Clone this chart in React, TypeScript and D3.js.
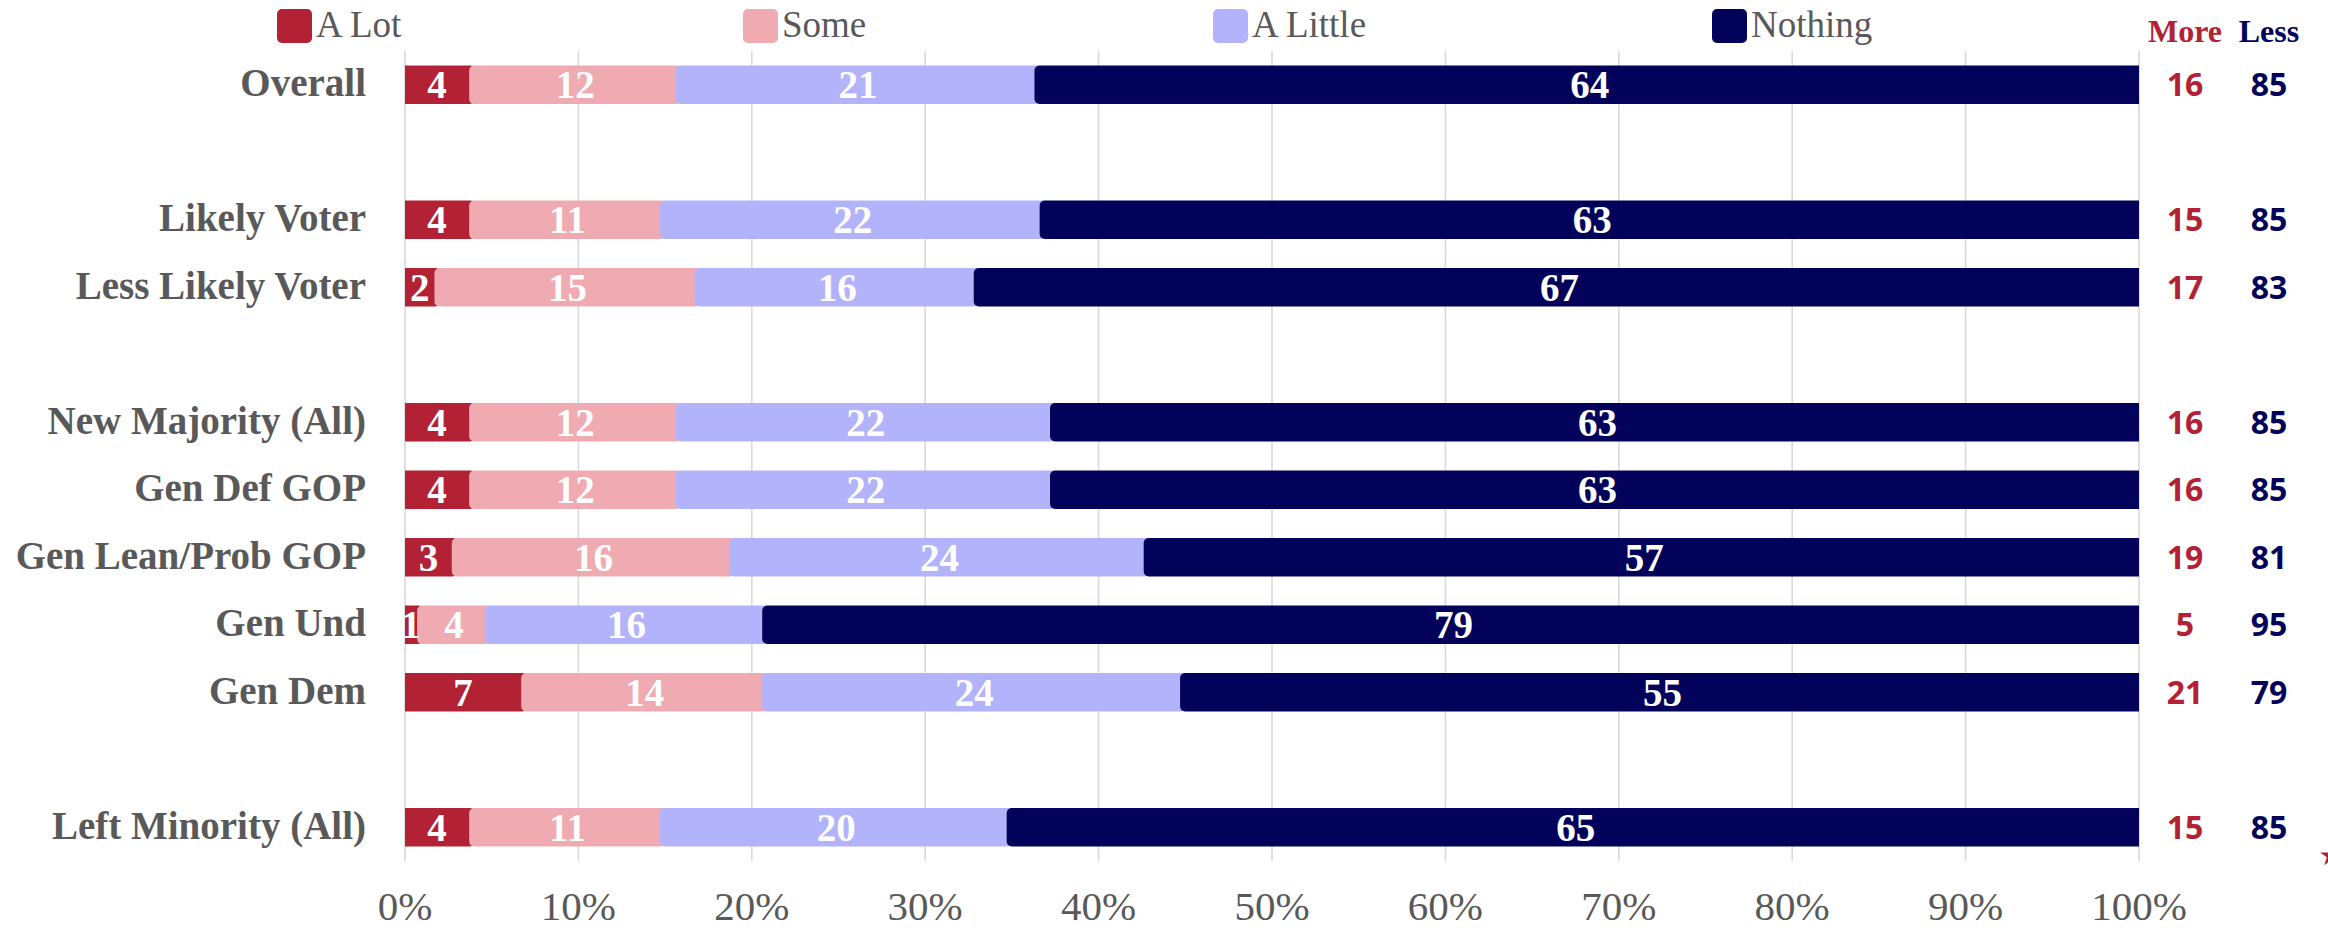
import React from "react";
import * as d3 from "d3";

const categories = [
  "Overall", "", "Likely Voter", "Less Likely Voter", "",
  "New Majority (All)", "Gen Def GOP", "Gen Lean/Prob GOP", "Gen Und", "Gen Dem", "",
  "Left Minority (All)",
];
const aLot = [3.7, null, 3.7, 1.7, null, 3.7, 3.7, 2.7, 0.7, 6.7, null, 3.7];
const some = [11.9, null, 11.0, 15.0, null, 11.9, 11.9, 16.0, 3.9, 13.9, null, 11.0];
const aLittle = [20.7, null, 21.9, 16.1, null, 21.6, 21.6, 23.9, 16.0, 24.1, null, 20.0];
const nothing = [63.7, null, 63.4, 67.2, null, 62.8, 62.8, 57.4, 79.4, 55.3, null, 65.3];
const moreValues = [16, null, 15, 17, null, 16, 16, 19, 5, 21, null, 15];
const lessValues = [85, null, 85, 83, null, 85, 85, 81, 95, 79, null, 85];
const seriesNames = ["A Lot", "Some", "A Little", "Nothing"];
const seriesColors = ["#B22234", "#EFABB1", "#B3B3FB", "#02025A"];
const xTicks = [0, 10, 20, 30, 40, 50, 60, 70, 80, 90, 100];
const tickLabels = ["0%", "10%", "20%", "30%", "40%", "50%", "60%", "70%", "80%", "90%", "100%"];

const W = 2328;
const H = 930;
const SERIF = "'Liberation Serif', 'Times New Roman', serif";
const SANS = "'Open Sans', 'Noto Sans', sans-serif";
const GREY = "#595959";
const RED = "#B22234";
const NAVY = "#02025A";

function roundRect(x: number, y: number, w: number, h: number, rl: number, rr: number) {
  const p = d3.path();
  p.moveTo(x + rl, y);
  p.lineTo(x + w - rr, y);
  if (rr) p.arcTo(x + w, y, x + w, y + rr, rr);
  else p.lineTo(x + w, y);
  p.lineTo(x + w, y + h - rr);
  if (rr) p.arcTo(x + w, y + h, x + w - rr, y + h, rr);
  else p.lineTo(x + w, y + h);
  p.lineTo(x + rl, y + h);
  if (rl) p.arcTo(x, y + h, x, y + h - rl, rl);
  else p.lineTo(x, y + h);
  p.lineTo(x, y + rl);
  if (rl) p.arcTo(x, y, x + rl, y, rl);
  else p.lineTo(x, y);
  p.closePath();
  return p.toString();
}

export default function App() {
  const x = d3.scaleLinear().domain([0, 100]).range([405, 2139]);
  const y = d3
    .scaleBand<number>()
    .domain(categories.map((_, i) => i))
    .range([51, 861])
    .padding(0);
  const barH = y.bandwidth() * 0.57;
  const series = [aLot, some, aLittle, nothing];
  const legendX = [277, 743, 1213, 1712];
  const moreX = 2185;
  const lessX = 2269;
  const star = d3.symbol(d3.symbolStar, 150)();

  return (
    <svg
      width={W}
      height={H}
      style={{ position: "absolute", left: 0, top: 0, background: "#fff" }}
    >
      {xTicks.map((t) => (
        <line
          key={"g" + t}
          x1={x(t)}
          x2={x(t)}
          y1={y.range()[0]}
          y2={y.range()[1]}
          stroke="#d9d9d9"
          strokeWidth={1.6}
        />
      ))}
      {xTicks.map((t, i) => (
        <text
          key={"t" + t}
          x={x(t)}
          y={920}
          textAnchor="middle"
          fontFamily={SERIF}
          fontSize={41}
          fill={GREY}
        >
          {tickLabels[i]}
        </text>
      ))}
      {seriesNames.map((n, i) => (
        <g key={"l" + n}>
          <rect x={legendX[i]} y={9} width={35} height={34} rx={5} fill={seriesColors[i]} />
          <text x={legendX[i] + 39} y={37} fontFamily={SERIF} fontSize={37} fill={GREY}>
            {n}
          </text>
        </g>
      ))}
      <text x={moreX} y={42} textAnchor="middle" fontFamily={SERIF} fontWeight="bold" fontSize={32} fill={RED}>
        More
      </text>
      <text x={lessX} y={42} textAnchor="middle" fontFamily={SERIF} fontWeight="bold" fontSize={32} fill={NAVY}>
        Less
      </text>
      {categories.map((c, i) => {
        if (aLot[i] == null) return null;
        const cy = (y(i) as number) + y.bandwidth() / 2;
        const top = cy - barH / 2;
        let acc = 0;
        const segs = series.map((s, k) => {
          const v = s[i] as number;
          const x0 = x(acc);
          acc += v;
          const x1 = x(acc);
          return { k, v, x0, x1 };
        });
        return (
          <g key={"b" + i}>
            {segs.map(({ k, x0, x1 }) => {
              const last = k === segs.length - 1;
              const ext = last ? 0 : 6;
              return (
                <path
                  key={k}
                  d={roundRect(x0, top, x1 - x0 + ext, barH, k === 0 ? 0 : 5, last ? 0 : 5)}
                  fill={seriesColors[k]}
                />
              );
            })}
            {segs.map(({ k, v, x0, x1 }) => (
              <text
                key={"v" + k}
                x={(x0 + x1) / 2 + (k === 0 ? 0 : 3)}
                y={cy + 13.5}
                textAnchor="middle"
                fontFamily={SERIF}
                fontWeight="bold"
                fontSize={39}
                fill="#fff"
              >
                {Math.round(v)}
              </text>
            ))}
            <text
              x={366}
              y={cy + 11.5}
              textAnchor="end"
              fontFamily={SERIF}
              fontWeight="bold"
              fontSize={39}
              fill={GREY}
            >
              {c}
            </text>
            <text x={moreX} y={cy + 11.7} textAnchor="middle" fontFamily={SANS} fontWeight="bold" fontSize={32} fill={RED}>
              {moreValues[i]}
            </text>
            <text x={lessX} y={cy + 11.7} textAnchor="middle" fontFamily={SANS} fontWeight="bold" fontSize={32} fill={NAVY}>
              {lessValues[i]}
            </text>
          </g>
        );
      })}
      <path d={star || ""} transform="translate(2331,856)" fill={RED} />
    </svg>
  );
}
